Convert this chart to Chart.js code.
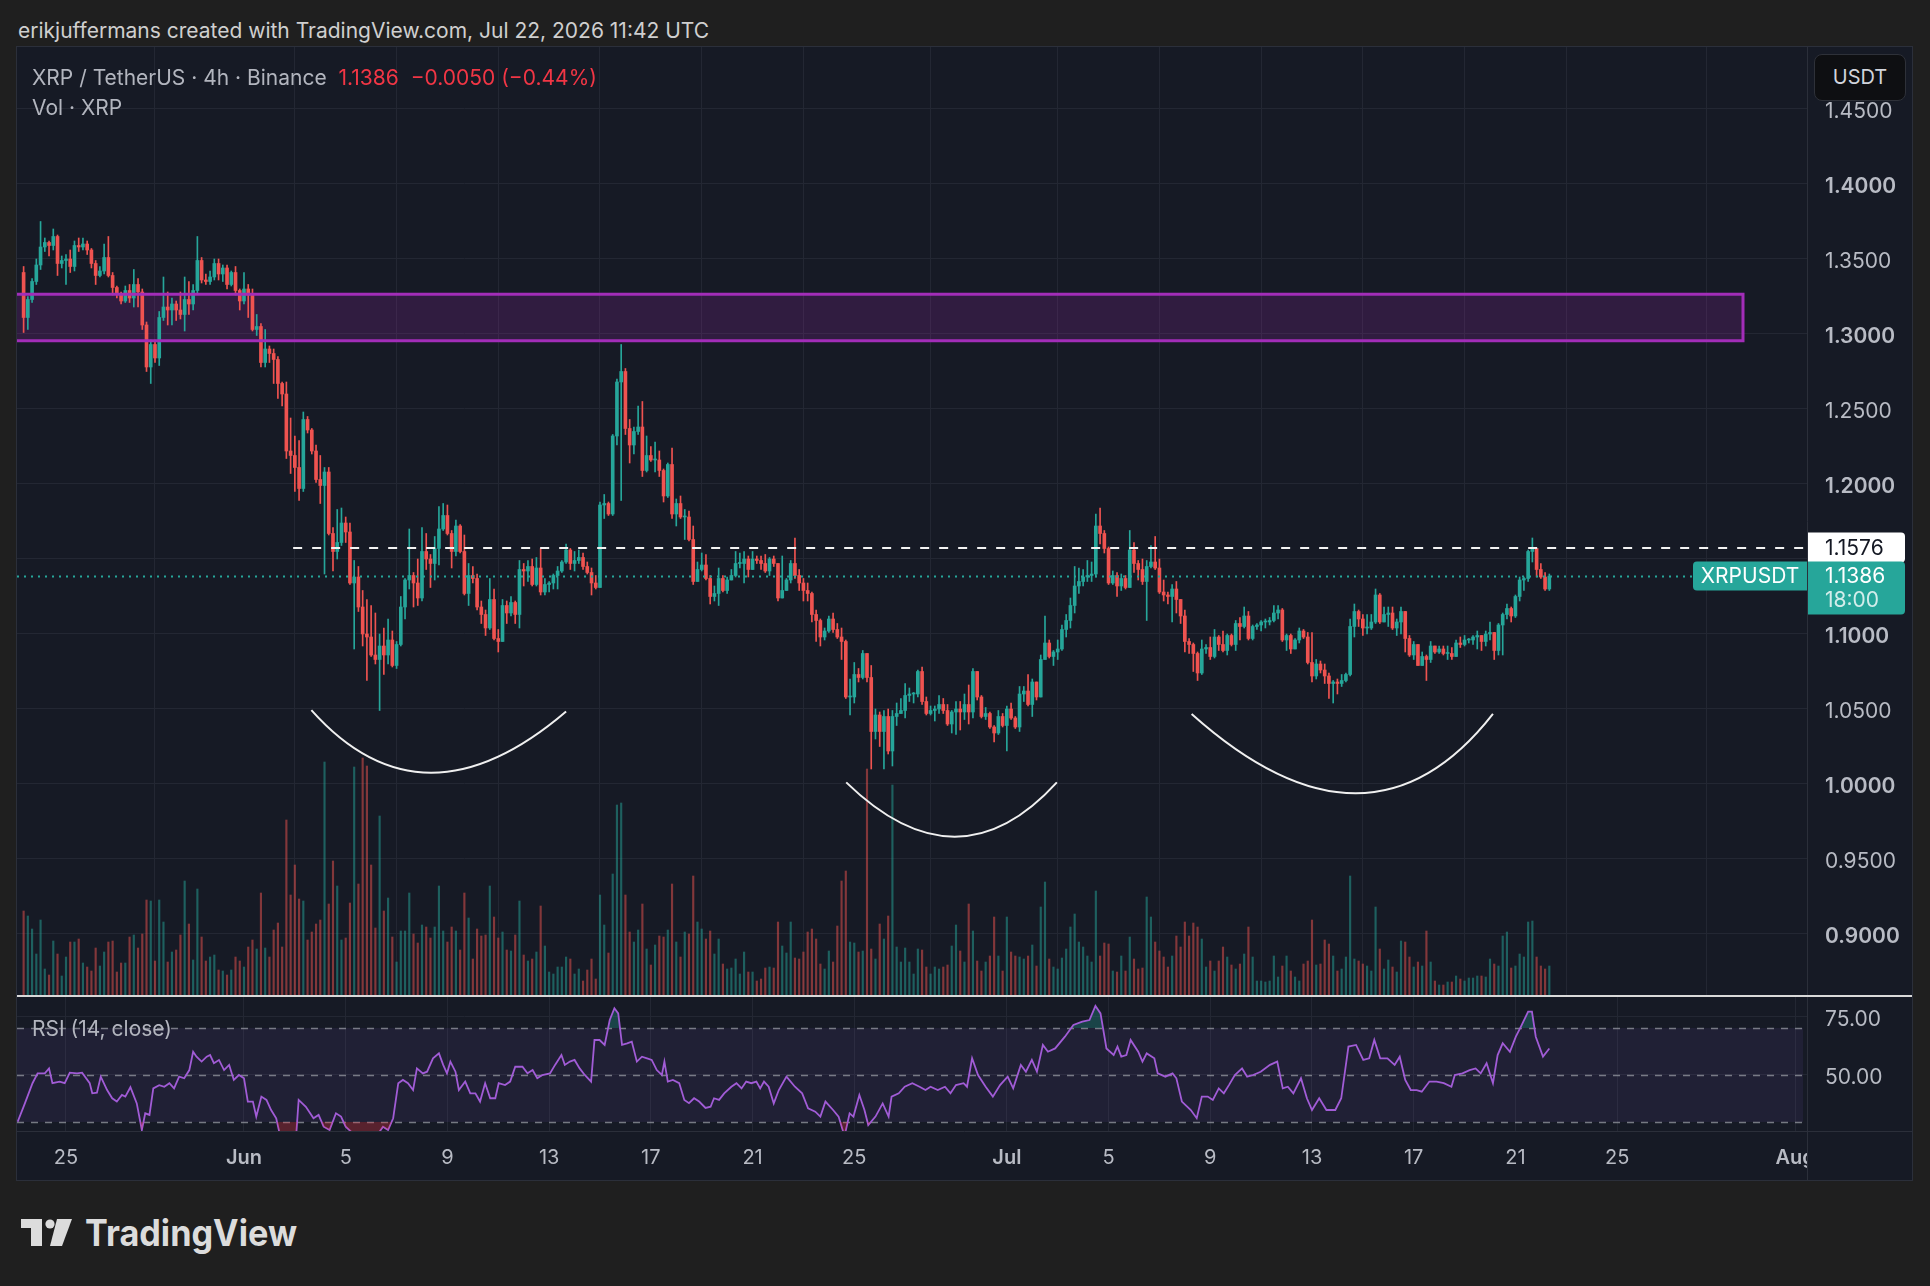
<!DOCTYPE html>
<html>
<head>
<meta charset="utf-8">
<script src="https://cdn.jsdelivr.net/npm/chart.js@4.4.1/dist/chart.umd.min.js"></script>
<style>
  body { margin: 0; width: 1930px; height: 1286px; background: #1f1f1f; position: relative; overflow: hidden;
         font-family: Inter, Roboto, "Noto Sans", sans-serif; }
  #panel { position: absolute; left: 17px; top: 47px; width: 1895px; height: 1133px; background: #161a25;
           box-shadow: 0 0 0 1px #2b2f3a; }
  canvas { position: absolute; }
  #sep { position: absolute; left: 17px; top: 995px; width: 1895px; height: 2px; background: #d9d9d9; }
  .txt { position: absolute; white-space: pre; font-size: 21px; line-height: 24px; }
  #hdr { left: 18px; top: 19px; color: #cfcfcf; }
  #leg1 { left: 32px; top: 66px; color: #b2b5be; }
  #leg1 .dn { color: #f23645; }
  #leg2 { left: 32px; top: 96px; color: #b2b5be; }
  #legRsi { left: 32px; top: 1017px; color: #b2b5be; }
  #usdt { position: absolute; left: 1814px; top: 54px; width: 92px; height: 47px; box-sizing: border-box;
          background: #0e0f12; border: 1px solid #2e3139; border-radius: 8px; color: #d1d4dc;
          font-size: 20px; line-height: 44px; text-align: center; }
  #logo { position: absolute; left: 18px; top: 1212px; }
</style>
</head>
<body>
<div id="panel"></div>
<canvas id="mainChart" width="1895" height="948" style="left:17px;top:47px"></canvas>
<div id="sep"></div>
<canvas id="rsiChart" width="1895" height="183" style="left:17px;top:997px"></canvas>

<div class="txt" id="hdr">erikjuffermans created with TradingView.com, Jul 22, 2026 11:42 UTC</div>
<div class="txt" id="leg1">XRP / TetherUS · 4h · Binance  <span class="dn">1.1386  −0.0050 (−0.44%)</span></div>
<div class="txt" id="leg2">Vol · XRP</div>
<div class="txt" id="legRsi">RSI (14, close)</div>
<div id="usdt">USDT</div>

<svg id="logo" width="300" height="50">
  <path d="M3 7 H24 V34 H13 V16 H3 Z" fill="#dcdcdc"/>
  <circle cx="32" cy="12" r="4.6" fill="#dcdcdc"/>
  <path d="M39 7 H54 L44 34 H32 Z" fill="#dcdcdc"/>
  <text x="67" y="34" font-size="37" font-weight="700" fill="#dcdcdc" textLength="212" lengthAdjust="spacingAndGlyphs"
        font-family="Inter, Roboto, sans-serif">TradingView</text>
</svg>

<script>
'use strict';

// ── Данные: XRP/USDT, 4h свечи (индекс бара 0 = 23 мая 08:00) ──
const firstOpen = 1.341;

const closes = [
  1.311,1.323,1.335,1.346,1.358,1.361,1.359,1.365,1.347,1.349,
  1.350,1.345,1.359,1.358,1.360,1.356,1.347,1.339,1.342,1.351,
  1.339,1.331,1.327,1.322,1.329,1.324,1.333,1.328,1.306,1.278,
  1.293,1.284,1.311,1.318,1.316,1.320,1.316,1.313,1.323,1.320,
  1.329,1.349,1.336,1.335,1.338,1.347,1.340,1.344,1.333,1.341,
  1.329,1.322,1.330,1.326,1.303,1.305,1.281,1.290,1.287,1.283,
  1.267,1.260,1.222,1.219,1.211,1.197,1.243,1.236,1.222,1.203,
  1.199,1.208,1.167,1.155,1.161,1.174,1.168,1.134,1.138,1.118,
  1.100,1.098,1.086,1.083,1.092,1.086,1.096,1.079,1.093,1.118,
  1.136,1.139,1.134,1.124,1.155,1.150,1.147,1.157,1.170,1.179,
  1.167,1.155,1.172,1.155,1.127,1.139,1.137,1.118,1.113,1.104,
  1.123,1.097,1.095,1.119,1.114,1.121,1.113,1.143,1.142,1.145,
  1.133,1.144,1.128,1.133,1.134,1.139,1.142,1.148,1.156,1.147,
  1.149,1.151,1.145,1.141,1.134,1.131,1.186,1.187,1.180,1.232,
  1.268,1.275,1.237,1.226,1.235,1.238,1.209,1.219,1.216,1.216,
  1.209,1.192,1.213,1.180,1.187,1.178,1.178,1.163,1.135,1.143,
  1.146,1.137,1.125,1.127,1.137,1.129,1.136,1.139,1.147,1.147,
  1.150,1.143,1.150,1.149,1.147,1.142,1.150,1.147,1.124,1.129,
  1.136,1.147,1.139,1.134,1.129,1.127,1.113,1.109,1.098,1.102,
  1.110,1.103,1.098,1.095,1.058,1.058,1.073,1.071,1.087,1.071,
  1.035,1.046,1.035,1.045,1.022,1.045,1.047,1.049,1.059,1.060,
  1.060,1.075,1.055,1.047,1.049,1.050,1.053,1.049,1.040,1.048,
  1.050,1.048,1.053,1.048,1.075,1.058,1.045,1.047,1.038,1.034,
  1.045,1.039,1.050,1.044,1.038,1.060,1.062,1.053,1.068,1.058,
  1.083,1.094,1.085,1.088,1.090,1.103,1.109,1.119,1.132,1.135,
  1.138,1.139,1.140,1.172,1.167,1.157,1.134,1.139,1.132,1.137,
  1.131,1.156,1.147,1.143,1.135,1.145,1.148,1.144,1.128,1.126,
  1.125,1.130,1.123,1.112,1.095,1.093,1.087,1.074,1.090,1.091,
  1.085,1.098,1.093,1.089,1.099,1.093,1.107,1.105,1.112,1.097,
  1.105,1.106,1.108,1.108,1.109,1.114,1.116,1.096,1.099,1.090,
  1.096,1.102,1.098,1.081,1.072,1.080,1.076,1.072,1.067,1.068,
  1.067,1.069,1.073,1.105,1.115,1.110,1.104,1.104,1.108,1.126,
  1.108,1.113,1.114,1.104,1.108,1.115,1.097,1.086,1.093,1.079,
  1.085,1.083,1.092,1.088,1.090,1.087,1.087,1.085,1.094,1.093,
  1.096,1.096,1.098,1.099,1.095,1.100,1.101,1.089,1.106,1.113,
  1.117,1.112,1.125,1.136,1.137,1.155,1.157,1.143,1.138,1.130,
  1.1386
];

const highs = [
  1.345,1.325,1.337,1.350,1.375,1.364,1.362,1.370,1.366,1.352,
  1.353,1.356,1.362,1.364,1.364,1.362,1.357,1.349,1.345,1.360,
  1.365,1.341,1.332,1.328,1.332,1.333,1.343,1.337,1.330,1.308,
  1.296,1.296,1.315,1.338,1.328,1.324,1.322,1.328,1.338,1.335,
  1.333,1.365,1.351,1.340,1.342,1.350,1.350,1.346,1.346,1.342,
  1.345,1.330,1.341,1.333,1.330,1.313,1.307,1.303,1.292,1.290,
  1.285,1.268,1.268,1.244,1.232,1.229,1.248,1.245,1.237,1.226,
  1.219,1.211,1.211,1.171,1.183,1.184,1.178,1.174,1.149,1.145,
  1.129,1.123,1.119,1.114,1.100,1.104,1.110,1.102,1.095,1.125,
  1.137,1.170,1.141,1.150,1.171,1.167,1.153,1.165,1.185,1.187,
  1.186,1.169,1.176,1.173,1.166,1.147,1.145,1.140,1.122,1.116,
  1.137,1.130,1.103,1.123,1.122,1.125,1.122,1.149,1.147,1.149,
  1.150,1.151,1.157,1.137,1.135,1.140,1.145,1.149,1.160,1.157,
  1.155,1.156,1.154,1.148,1.144,1.139,1.188,1.193,1.188,1.233,
  1.270,1.293,1.277,1.243,1.238,1.252,1.255,1.232,1.225,1.228,
  1.222,1.210,1.214,1.224,1.190,1.192,1.183,1.182,1.172,1.148,
  1.154,1.153,1.139,1.132,1.144,1.139,1.138,1.143,1.155,1.154,
  1.155,1.152,1.155,1.152,1.152,1.153,1.151,1.152,1.147,1.152,
  1.137,1.149,1.164,1.143,1.137,1.134,1.128,1.116,1.110,1.104,
  1.112,1.114,1.107,1.104,1.096,1.070,1.081,1.077,1.089,1.087,
  1.079,1.050,1.048,1.049,1.050,1.049,1.054,1.057,1.067,1.064,
  1.061,1.076,1.078,1.058,1.052,1.052,1.059,1.057,1.053,1.049,
  1.055,1.055,1.060,1.066,1.077,1.075,1.059,1.051,1.048,1.039,
  1.049,1.047,1.052,1.054,1.045,1.065,1.065,1.073,1.070,1.068,
  1.086,1.112,1.096,1.089,1.096,1.106,1.113,1.124,1.145,1.144,
  1.143,1.149,1.148,1.180,1.184,1.169,1.158,1.142,1.141,1.140,
  1.139,1.169,1.161,1.149,1.150,1.149,1.159,1.165,1.150,1.136,
  1.128,1.133,1.135,1.123,1.116,1.097,1.094,1.088,1.096,1.093,
  1.098,1.103,1.099,1.102,1.100,1.100,1.109,1.111,1.118,1.115,
  1.106,1.107,1.109,1.110,1.111,1.119,1.119,1.117,1.100,1.100,
  1.097,1.104,1.103,1.101,1.101,1.083,1.082,1.080,1.074,1.069,
  1.070,1.073,1.074,1.110,1.120,1.116,1.113,1.113,1.113,1.130,
  1.127,1.118,1.118,1.118,1.110,1.118,1.115,1.099,1.095,1.093,
  1.088,1.086,1.095,1.092,1.092,1.092,1.092,1.091,1.096,1.098,
  1.099,1.097,1.099,1.102,1.099,1.102,1.108,1.100,1.107,1.114,
  1.120,1.118,1.126,1.138,1.138,1.156,1.164,1.157,1.147,1.141,
  1.140
];

const lows = [
  1.301,1.303,1.321,1.333,1.343,1.355,1.352,1.356,1.339,1.344,
  1.333,1.341,1.342,1.355,1.356,1.353,1.344,1.333,1.338,1.340,
  1.338,1.326,1.324,1.320,1.321,1.321,1.318,1.318,1.303,1.275,
  1.267,1.281,1.279,1.309,1.306,1.306,1.309,1.310,1.302,1.313,
  1.316,1.327,1.334,1.333,1.333,1.336,1.336,1.335,1.330,1.332,
  1.326,1.316,1.320,1.311,1.302,1.299,1.278,1.278,1.281,1.267,
  1.257,1.252,1.217,1.207,1.195,1.189,1.195,1.234,1.220,1.201,
  1.187,1.140,1.166,1.142,1.150,1.159,1.161,1.133,1.090,1.115,
  1.092,1.069,1.085,1.080,1.049,1.073,1.080,1.078,1.077,1.092,
  1.110,1.130,1.118,1.119,1.122,1.143,1.131,1.136,1.146,1.169,
  1.166,1.144,1.152,1.154,1.126,1.119,1.134,1.116,1.107,1.099,
  1.103,1.096,1.088,1.096,1.107,1.112,1.107,1.104,1.132,1.135,
  1.132,1.132,1.126,1.126,1.128,1.130,1.130,1.141,1.147,1.143,
  1.142,1.147,1.143,1.140,1.126,1.130,1.131,1.177,1.179,1.179,
  1.226,1.189,1.233,1.214,1.220,1.233,1.205,1.208,1.215,1.208,
  1.205,1.188,1.191,1.177,1.172,1.177,1.163,1.162,1.133,1.135,
  1.142,1.136,1.120,1.122,1.119,1.128,1.127,1.136,1.138,1.144,
  1.134,1.138,1.143,1.147,1.143,1.141,1.139,1.145,1.122,1.124,
  1.129,1.134,1.137,1.129,1.122,1.122,1.108,1.095,1.092,1.096,
  1.101,1.101,1.097,1.083,1.057,1.046,1.054,1.068,1.070,1.068,
  1.010,1.030,1.025,1.010,1.020,1.012,1.039,1.047,1.044,1.055,
  1.054,1.058,1.053,1.046,1.046,1.042,1.047,1.047,1.039,1.034,
  1.033,1.036,1.043,1.040,1.044,1.056,1.044,1.043,1.037,1.028,
  1.033,1.038,1.022,1.043,1.037,1.035,1.055,1.052,1.045,1.056,
  1.058,1.083,1.084,1.079,1.083,1.089,1.098,1.104,1.114,1.127,
  1.132,1.135,1.135,1.138,1.160,1.154,1.133,1.133,1.125,1.129,
  1.130,1.134,1.141,1.136,1.133,1.109,1.144,1.143,1.127,1.122,
  1.120,1.108,1.114,1.107,1.088,1.087,1.075,1.069,1.073,1.087,
  1.083,1.084,1.089,1.088,1.086,1.092,1.089,1.096,1.104,1.096,
  1.096,1.103,1.102,1.104,1.106,1.108,1.110,1.095,1.089,1.087,
  1.090,1.094,1.097,1.080,1.068,1.070,1.074,1.067,1.057,1.054,
  1.060,1.065,1.068,1.072,1.098,1.105,1.099,1.100,1.103,1.107,
  1.107,1.108,1.105,1.103,1.099,1.100,1.088,1.085,1.083,1.079,
  1.079,1.069,1.081,1.087,1.087,1.086,1.083,1.083,1.085,1.091,
  1.092,1.094,1.093,1.090,1.089,1.092,1.096,1.083,1.086,1.086,
  1.110,1.108,1.111,1.122,1.129,1.135,1.148,1.138,1.137,1.129,
  1.129
];

// объём, условные единицы
const volumes = [
  84,79,66,41,75,26,20,54,41,19,
  38,53,53,56,32,28,24,47,29,43,
  53,54,23,32,32,58,60,47,61,95,
  94,34,95,73,33,43,45,60,114,71,
  35,106,58,34,38,40,25,24,20,25,
  38,34,28,48,55,46,102,47,38,65,
  72,48,175,100,130,96,94,55,63,71,
  75,233,91,134,109,55,57,92,228,111,
  237,229,130,67,179,84,97,58,33,64,
  64,102,61,52,70,68,57,68,109,64,
  53,68,64,45,102,77,36,66,59,60,
  109,78,57,63,45,44,60,94,40,34,
  36,43,89,49,23,21,28,28,38,36,
  21,26,14,25,36,16,100,70,42,121,
  190,192,100,63,53,65,91,46,30,50,
  59,58,65,111,53,38,63,61,119,73,
  66,56,64,41,56,31,26,27,36,21,
  43,23,23,14,16,27,28,27,73,
  49,42,73,37,36,43,63,66,56,31,
  26,44,33,69,114,124,53,52,43,44,
  226,46,36,71,56,79,210,48,33,47,
  33,21,46,45,28,21,28,26,28,30,
  49,70,44,33,91,64,34,24,33,39,
  78,39,24,78,43,39,38,36,39,50,
  29,88,113,36,28,26,37,46,68,81,
  53,48,39,33,104,39,52,51,24,23,
  39,24,58,36,26,27,98,78,53,44,
  38,28,39,59,48,73,59,72,68,56,
  28,34,24,34,48,38,30,26,31,41,
  68,38,14,14,13,14,39,18,29,39,
  24,18,14,31,34,75,30,31,55,51,
  39,24,26,38,119,36,34,31,29,24,
  88,46,26,35,28,23,54,53,38,28,
  33,29,64,33,14,10,10,13,13,19,
  16,14,17,17,19,19,18,36,31,29,
  59,63,27,29,41,38,73,74,38,29,
  26,29
];

// RSI(14): положение по бару и значение
const rsiBar = [
  -1.4,0.3,2.1,3.3,5.0,6.0,6.8,8.5,9.7,10.9,12.6,13.8,15.6,16.2,17.3,18.2,19.7,20.9,22.0,23.2,
  24.0,25.2,26.7,27.9,28.7,29.7,30.6,32.0,33.2,34.4,35.5,36.7,37.9,39.1,40.0,40.8,42.0,43.2,44.0,44.9,
  46.1,47.3,48.5,49.6,50.8,52.0,52.9,54.1,54.9,56.1,57.3,58.4,59.6,60.8,62.0,63.1,64.3,64.9,66.6,68.4,
  69.6,70.8,72.2,73.7,74.9,76.0,77.8,79.0,80.2,82.5,84.8,86.0,87.2,88.4,89.5,90.7,91.9,92.8,94.2,95.2,
  96.6,98.0,99.0,99.9,100.7,101.9,102.7,104.2,105.4,106.6,107.7,108.9,110.1,111.3,112.1,113.6,114.8,116.0,117.7,118.9,
  120.1,121.2,122.4,124.2,125.4,126.9,127.7,128.9,130.0,131.2,132.4,133.9,134.7,135.9,137.1,138.3,139.4,140.3,141.2,142.4,
  143.5,144.7,145.9,147.1,148.2,149.4,150.6,151.2,152.0,153.2,154.7,155.9,157.0,158.2,159.4,160.9,162.1,162.9,164.1,165.3,
  167.0,168.2,169.4,170.5,171.7,172.9,173.8,174.7,175.8,177.0,178.2,180.0,
  182.0,183.7,185.1,186.8,188.0,189.2,191.0,192.3,193.7,194.9,195.8,197.2,198.4,199.3,201.0,202.7,204.1,204.8,206.5,207.9,
  209.7,211.4,212.8,214.0,215.7,217.4,218.7,220.0,221.8,222.6,223.8,225.2,227.0,228.7,230.4,232.2,233.5,235.3,236.5,237.9,
  239.1,240.5,241.7,243.4,245.7,247.7,249.8,251.5,252.9,254.1,255.5,257.2,258.1,259.0,260.2,261.2,263.0,264.0,265.0,266.8,
  267.6,269.4,271.1,272.0,273.3,275.4,276.8,278.0,279.4,280.6,282.0,283.2,284.4,285.8,287.5,288.7,290.1,291.9,294.1,295.8,
  297.1,298.3,299.6,301.4,302.8,304.0,305.7,307.4,309.5,310.9,312.6,314.4,316.1,317.5,318.7,320.1,321.8,323.5,324.7,326.0,
  327.3,328.7,329.9,331.7,333.4,335.1,336.9,337.7,339.5,341.2,342.6,343.8,345.2,346.7,347.8,349.0,350.7,352.1,353.3,355.0,
  355.9,356.8,358.5,360.0
];
const rsiVal = [
  30.1,37.9,46.5,50.7,50.7,52.8,46.5,47.2,46.5,51.0,50.7,51.0,46.5,42.2,42.5,49.3,43.6,40.1,38.7,41.5,
  40.8,44.8,37.9,26.6,33.7,33.0,44.3,45.7,45.0,46.5,44.3,49.3,48.6,52.1,59.9,57.8,55.7,57.8,58.5,55.0,
  56.4,52.1,54.3,47.9,50.0,48.6,38.7,38.7,32.3,40.8,39.4,35.1,31.6,22.0,20.0,21.0,24.0,39.4,36.5,31.6,
  33.0,28.0,26.6,33.7,32.3,28.0,25.0,21.0,20.0,22.0,28.0,26.6,31.6,46.5,47.9,46.5,43.6,52.8,50.7,51.4,
  57.1,59.2,54.3,50.7,55.7,51.4,43.6,47.2,42.2,42.2,38.7,46.5,40.1,40.1,46.5,45.7,47.2,53.5,53.5,50.7,
  52.1,48.6,50.0,50.7,54.3,58.5,54.3,55.7,56.4,52.8,50.0,47.2,64.9,64.9,62.8,73.4,78.4,76.2,62.8,63.5,
  64.2,55.7,57.8,57.1,56.4,52.1,50.0,55.7,47.2,47.9,46.5,39.4,38.0,40.1,38.7,36.0,36.5,40.1,39.4,42.2,
  45.0,46.5,44.3,47.2,46.5,47.2,44.3,47.2,45.0,37.9,43.6,49.3,
  45.0,42.2,35.8,34.4,32.3,38.7,35.1,32.3,24.0,33.7,32.3,41.5,35.1,28.7,32.3,37.9,32.3,40.8,42.2,45.0,
  46.5,45.0,43.6,45.0,43.6,45.0,42.2,45.7,46.5,45.0,57.1,50.0,45.0,40.8,45.7,49.3,44.3,54.3,51.4,56.4,
  51.4,62.8,59.9,61.3,66.3,71.3,72.7,73.4,79.4,76.2,61.3,58.5,62.1,57.8,58.5,64.9,59.9,55.7,59.2,57.1,
  50.7,49.3,50.7,48.6,38.7,35.1,31.6,40.8,40.8,39.4,44.3,42.2,45.7,50.0,52.8,49.3,50.0,51.4,54.3,55.7,
  44.3,45.0,42.2,48.6,40.1,35.1,40.1,35.1,35.1,40.1,62.1,62.8,56.4,57.1,64.9,57.1,57.1,54.3,57.8,47.9,
  43.6,43.6,42.9,47.2,47.2,46.5,45.0,50.0,50.7,52.1,52.8,50.7,55.0,46.5,58.5,63.5,59.9,66.3,70.6,77.0,
  77.0,66.3,57.8,61.3
];

// шкалы и подписи
const tickBars   = [10, 52, 76, 100, 124, 148, 172, 196, 232, 256, 280, 304, 328, 352, 376, 418];
const tickLabels = ['25', 'Jun', '5', '9', '13', '17', '21', '25', 'Jul', '5', '9', '13', '17', '21', '25', 'Aug'];
const monthNames = ['Jun', 'Jul', 'Aug'];
const priceTicks = [0.90, 0.95, 1.00, 1.05, 1.10, 1.15, 1.20, 1.25, 1.30, 1.35, 1.40, 1.45];
const rsiTicks   = [50, 75];
const rsiLevels  = [30, 50, 70];
const barRange   = [-1.56, 420.8];
const priceRange = [0.85933, 1.49133];
const rsiRange   = [26.17, 83.19];

// разметка автора
const zone = { fromBar: -6, toBar: 405.7, low: 1.2955, high: 1.3265 };
const neckline = { price: 1.1576, fromBar: 63.6 };
const arcs = [
  // [бар начала, цена, бар дна, цена дна, бар конца, цена]
  [67.9, 1.0492, 96.0, 1.0075, 128.0, 1.0483],
  [194.1, 1.0011, 219.7, 0.9649, 243.8, 1.0011],
  [275.6, 1.0467, 314.3, 0.9938, 346.7, 1.0467]
];
const symbolName = 'XRPUSDT';
const countdown = '18:00';

// ── Стили ──
const UP = '#26a69a', DOWN = '#ef5350';
const UP_VOL = 'rgba(38,166,154,0.5)', DOWN_VOL = 'rgba(239,83,80,0.5)';
const GRID = '#232733', AXIS_LINE = '#2b2f3a', PANEL = '#161a25', LABEL = '#b8bbc4';
const FONT = 'Inter, Roboto, "Noto Sans", sans-serif';

Chart.defaults.font.family = FONT;
Chart.defaults.font.size = 20;
Chart.defaults.color = LABEL;
Chart.defaults.animation = false;
Chart.defaults.plugins.legend.display = false;
Chart.defaults.plugins.tooltip.enabled = false;

const N = closes.length;
const opens = closes.map((c, i) => (i === 0 ? firstOpen : closes[i - 1]));
const isUp = closes.map((c, i) => c >= opens[i]);

const bodyData = closes.map((c, i) => ({ x: i, y: [opens[i], c] }));
const wickData = closes.map((c, i) => ({
  x: i,
  y: [Math.min(lows[i], opens[i], c), Math.max(highs[i], opens[i], c)]
}));
const volData = volumes.map((v, i) => ({ x: i, y: v }));
const candleColors = isUp.map((u) => (u ? UP : DOWN));
const volColors = isUp.map((u) => (u ? UP_VOL : DOWN_VOL));

function zeroPadding(scale) {
  scale.paddingTop = 0; scale.paddingBottom = 0;
  scale.paddingLeft = 0; scale.paddingRight = 0;
}

function roundRect(ctx, x, y, w, h, r) {
  // r = [tl, tr, br, bl]
  ctx.beginPath();
  ctx.moveTo(x + r[0], y);
  ctx.lineTo(x + w - r[1], y);
  ctx.quadraticCurveTo(x + w, y, x + w, y + r[1]);
  ctx.lineTo(x + w, y + h - r[2]);
  ctx.quadraticCurveTo(x + w, y + h, x + w - r[2], y + h);
  ctx.lineTo(x + r[3], y + h);
  ctx.quadraticCurveTo(x, y + h, x, y + h - r[3]);
  ctx.lineTo(x, y + r[0]);
  ctx.quadraticCurveTo(x, y, x + r[0], y);
  ctx.closePath();
}

// ── Разметка на основном графике ──
const mainOverlay = {
  id: 'mainOverlay',
  beforeDatasetsDraw(chart) {
    const { ctx, chartArea: a, scales: { x, y } } = chart;
    ctx.save();
    ctx.beginPath(); ctx.rect(a.left, a.top, a.width, a.height); ctx.clip();
    const x0 = x.getPixelForValue(zone.fromBar), x1 = x.getPixelForValue(zone.toBar);
    const y0 = y.getPixelForValue(zone.high), y1 = y.getPixelForValue(zone.low);
    ctx.fillStyle = 'rgba(156,39,176,0.2)';
    ctx.fillRect(x0, y0, x1 - x0, y1 - y0);
    ctx.restore();
  },
  afterDatasetsDraw(chart) {
    const { ctx, chartArea: a, scales: { x, y } } = chart;
    ctx.save();
    ctx.beginPath(); ctx.rect(a.left, a.top, a.width, a.height); ctx.clip();

    // зона сопротивления
    const x0 = x.getPixelForValue(zone.fromBar), x1 = x.getPixelForValue(zone.toBar);
    const y0 = y.getPixelForValue(zone.high), y1 = y.getPixelForValue(zone.low);
    ctx.strokeStyle = '#a22db8';
    ctx.lineWidth = 3;
    ctx.strokeRect(x0, y0, x1 - x0, y1 - y0);

    // линия последней цены (пунктир точками)
    const py = Math.round(y.getPixelForValue(closes[N - 1])) + 0.5;
    ctx.strokeStyle = UP;
    ctx.lineWidth = 2;
    ctx.setLineDash([2, 5]);
    ctx.beginPath(); ctx.moveTo(a.left, py); ctx.lineTo(a.right, py); ctx.stroke();

    // линия шеи
    const ny = Math.round(y.getPixelForValue(neckline.price));
    ctx.strokeStyle = '#f2f2f2';
    ctx.lineWidth = 2;
    ctx.setLineDash([9, 10]);
    ctx.beginPath(); ctx.moveTo(x.getPixelForValue(neckline.fromBar), ny); ctx.lineTo(a.right, ny); ctx.stroke();
    ctx.setLineDash([]);

    // дуги
    ctx.strokeStyle = '#f0f0f0';
    ctx.lineWidth = 2;
    arcs.forEach((r) => {
      const p0 = [x.getPixelForValue(r[0]), y.getPixelForValue(r[1])];
      const pm = [x.getPixelForValue(r[2]), y.getPixelForValue(r[3])];
      const p2 = [x.getPixelForValue(r[4]), y.getPixelForValue(r[5])];
      const cx = 2 * pm[0] - (p0[0] + p2[0]) / 2;
      const cy = 2 * pm[1] - (p0[1] + p2[1]) / 2;
      ctx.beginPath();
      ctx.moveTo(p0[0], p0[1]);
      ctx.quadraticCurveTo(cx, cy, p2[0], p2[1]);
      ctx.stroke();
    });
    ctx.restore();
  },
  afterDraw(chart) {
    const { ctx, chartArea: a, scales: { y } } = chart;
    const W = chart.width;
    ctx.save();
    ctx.font = '21px ' + FONT;
    ctx.textBaseline = 'middle';

    // метка линии шеи
    const ny = y.getPixelForValue(neckline.price);
    ctx.fillStyle = '#ffffff';
    roundRect(ctx, a.right + 1, ny - 15, W - a.right - 8, 30, [0, 4, 4, 0]);
    ctx.fill();
    ctx.fillStyle = '#131722';
    ctx.textAlign = 'left';
    ctx.fillText(neckline.price.toFixed(4), a.right + 18, ny + 1);

    // метка символа и последней цены
    const py = y.getPixelForValue(closes[N - 1]);
    ctx.fillStyle = UP;
    roundRect(ctx, a.right - 114, py - 14.5, 114, 29, [4, 0, 0, 4]);
    ctx.fill();
    roundRect(ctx, a.right + 1, py - 14.5, W - a.right - 8, 53, [0, 4, 4, 0]);
    ctx.fill();
    ctx.fillStyle = '#ffffff';
    ctx.textAlign = 'center';
    ctx.fillText(symbolName, a.right - 57, py + 1);
    ctx.textAlign = 'left';
    ctx.fillText(closes[N - 1].toFixed(4), a.right + 18, py + 1);
    ctx.fillStyle = 'rgba(255,255,255,0.8)';
    ctx.fillText(countdown, a.right + 18, py + 25);
    ctx.restore();
  }
};

new Chart(document.getElementById('mainChart'), {
  type: 'bar',
  data: {
    datasets: [
      { data: bodyData, backgroundColor: candleColors, barThickness: 3, minBarLength: 1, grouped: false, order: 1, yAxisID: 'y' },
      { data: wickData, backgroundColor: candleColors, barThickness: 1, grouped: false, order: 2, yAxisID: 'y' },
      { data: volData, backgroundColor: volColors, barThickness: 1.5, grouped: false, order: 3, yAxisID: 'vol' }
    ]
  },
  options: {
    responsive: false,
    devicePixelRatio: 1,
    layout: { padding: 0 },
    scales: {
      x: {
        type: 'linear', min: barRange[0], max: barRange[1], offset: false,
        ticks: { display: false },
        grid: { color: GRID, drawTicks: false },
        border: { display: false },
        afterBuildTicks: (s) => { s.ticks = tickBars.map((v) => ({ value: v })); },
        afterFit: (s) => { s.height = 0; zeroPadding(s); }
      },
      y: {
        position: 'right', min: priceRange[0], max: priceRange[1],
        afterBuildTicks: (s) => { s.ticks = priceTicks.map((v) => ({ value: v })); },
        ticks: {
          padding: 18, color: LABEL, labelOffset: 2.5,
          callback: (v) => Number(v).toFixed(4),
          font: (c) => ({ size: 21, weight: (c.tick && Math.round(c.tick.value * 20) % 2 === 0) ? '600' : '400' })
        },
        grid: { color: GRID, drawTicks: false },
        border: { color: AXIS_LINE },
        afterFit: (s) => { s.width = 105; zeroPadding(s); }
      },
      vol: { display: false, min: 0, max: 948 }
    }
  },
  plugins: [mainOverlay]
});

// ── RSI ──
const rsiPoints = rsiBar.map((b, i) => ({ x: b, y: rsiVal[i] }));

const rsiOverlay = {
  id: 'rsiOverlay',
  beforeDatasetsDraw(chart) {
    const { ctx, chartArea: a, scales: { y } } = chart;
    ctx.save();
    const top = y.getPixelForValue(rsiLevels[2]), bot = y.getPixelForValue(rsiLevels[0]);
    ctx.fillStyle = 'rgba(126,87,194,0.1)';
    ctx.fillRect(a.left, top, a.width - 4, bot - top);
    ctx.strokeStyle = 'rgba(150,153,162,0.75)';
    ctx.lineWidth = 1.5;
    ctx.setLineDash([7, 7]);
    rsiLevels.forEach((lv) => {
      const ly = Math.round(y.getPixelForValue(lv)) + 0.5;
      ctx.beginPath(); ctx.moveTo(a.left, ly); ctx.lineTo(a.right - 4, ly); ctx.stroke();
    });
    ctx.restore();
  },
  afterDraw(chart) {
    const { ctx, chartArea: a } = chart;
    ctx.save();
    ctx.fillStyle = PANEL;
    ctx.fillRect(a.right + 1, a.bottom + 1, chart.width - a.right - 1, chart.height - a.bottom - 1);
    ctx.strokeStyle = AXIS_LINE;
    ctx.lineWidth = 1;
    ctx.beginPath();
    ctx.moveTo(Math.round(a.right) + 0.5, 0); ctx.lineTo(Math.round(a.right) + 0.5, chart.height);
    ctx.moveTo(0, Math.round(a.bottom) + 0.5); ctx.lineTo(chart.width, Math.round(a.bottom) + 0.5);
    ctx.stroke();
    ctx.restore();
  }
};

new Chart(document.getElementById('rsiChart'), {
  type: 'line',
  data: {
    datasets: [
      {
        data: rsiPoints, borderColor: 'rgba(0,0,0,0)', borderWidth: 0, pointRadius: 0,
        fill: { target: { value: rsiLevels[0] }, above: 'rgba(0,0,0,0)', below: 'rgba(242,54,69,0.3)' }
      },
      {
        data: rsiPoints, borderColor: '#a15cd6', borderWidth: 1.8, pointRadius: 0, tension: 0,
        fill: { target: { value: rsiLevels[2] }, above: 'rgba(38,166,154,0.3)', below: 'rgba(0,0,0,0)' }
      }
    ]
  },
  options: {
    responsive: false,
    devicePixelRatio: 1,
    layout: { padding: 0 },
    scales: {
      x: {
        type: 'linear', min: barRange[0], max: barRange[1], offset: false,
        afterBuildTicks: (s) => { s.ticks = tickBars.map((v) => ({ value: v })); },
        ticks: {
          autoSkip: false, maxRotation: 0, padding: 15, color: LABEL,
          callback: (v, i) => tickLabels[i],
          font: (c) => ({ size: 20, weight: (c.index !== undefined && monthNames.includes(tickLabels[c.index])) ? '600' : '400' })
        },
        grid: { color: GRID, drawTicks: false },
        border: { display: false },
        afterFit: (s) => { s.height = 49; zeroPadding(s); }
      },
      y: {
        position: 'right', min: rsiRange[0], max: rsiRange[1],
        afterBuildTicks: (s) => { s.ticks = rsiTicks.map((v) => ({ value: v })); },
        ticks: { padding: 18, color: LABEL, labelOffset: 3, callback: (v) => Number(v).toFixed(2), font: { size: 21 } },
        grid: { color: GRID, drawTicks: false },
        border: { color: AXIS_LINE },
        afterFit: (s) => { s.width = 105; zeroPadding(s); }
      }
    }
  },
  plugins: [rsiOverlay]
});
</script>
</body>
</html>
